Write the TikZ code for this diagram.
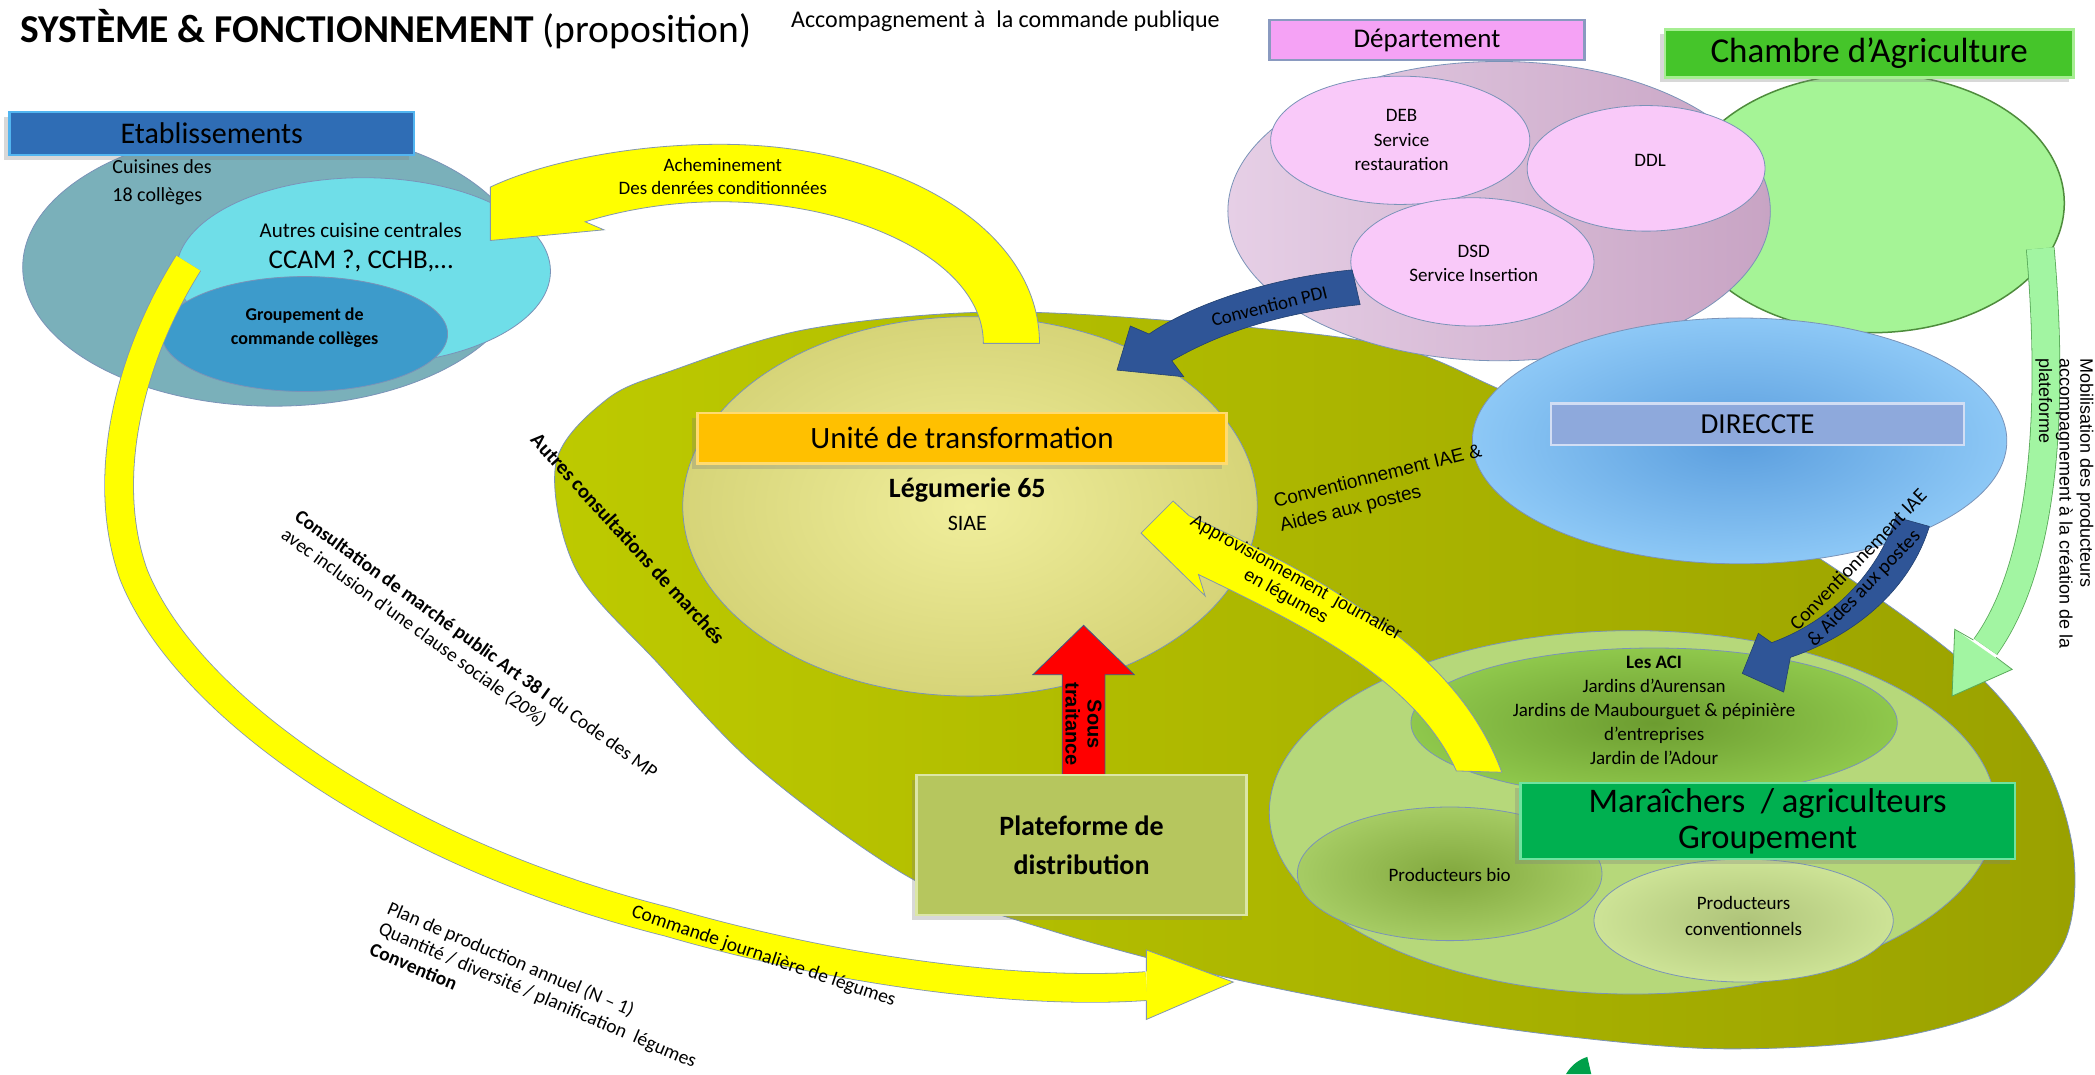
\documentclass[tikz,border=0pt]{standalone}
\usepackage{fontspec}
\setmainfont{Carlito}
\newfontfamily\arialfont{Liberation Sans}
\usetikzlibrary{calc, shadows}

\newcommand{\setfs}[2]{\fontsize{#1}{#2}\selectfont}

% --- Colours ---
\definecolor{etabTeal}{HTML}{7AB0BA}
\definecolor{etabCyan}{HTML}{6FDEE8}
\definecolor{etabBlue}{HTML}{3D9BCB}
\definecolor{etabBar}{HTML}{2F6DB5}
\definecolor{etabBarEdge}{HTML}{52B5F0}
\definecolor{shapeEdge}{HTML}{7A93B8}
\definecolor{depLight}{HTML}{E6CFE6}
\definecolor{depDark}{HTML}{C8A4C4}
\definecolor{depPink}{HTML}{F9C9F9}
\definecolor{depBar}{HTML}{F5A2F5}
\definecolor{depBarEdge}{HTML}{8A9AC0}
\definecolor{chambreFill}{HTML}{A5F496}
\definecolor{chambreEdge}{HTML}{4E8C3C}
\definecolor{chambreBar}{HTML}{45C52A}
\definecolor{chambreBarEdge}{HTML}{A6EE92}
\definecolor{direcIn}{HTML}{5B9EDE}
\definecolor{direcOut}{HTML}{8DC8F6}
\definecolor{direcBar}{HTML}{8EA9DC}
\definecolor{direcBarEdge}{HTML}{D2DEF4}
\definecolor{oliveL}{HTML}{BDCA00}
\definecolor{oliveR}{HTML}{9AA100}
\definecolor{uniteIn}{HTML}{F0EE9C}
\definecolor{uniteOut}{HTML}{D6D478}
\definecolor{uniteBar}{HTML}{FFC000}
\definecolor{uniteBarEdge}{HTML}{FFDB70}
\definecolor{platFill}{HTML}{B6C65E}
\definecolor{platEdge}{HTML}{DCE6A6}
\definecolor{prodLight}{HTML}{B6D87A}
\definecolor{aciIn}{HTML}{6C9C30}
\definecolor{aciOut}{HTML}{8FC84C}
\definecolor{bioIn}{HTML}{82A83E}
\definecolor{bioOut}{HTML}{A6CC64}
\definecolor{convIn}{HTML}{AFC47A}
\definecolor{convOut}{HTML}{CDE396}
\definecolor{maraBar}{HTML}{00B050}
\definecolor{maraBarEdge}{HTML}{6FE3A0}
\definecolor{arrowYellow}{HTML}{FFFF00}
\definecolor{yellowEdge}{HTML}{8397AE}
\definecolor{arrowBlue}{HTML}{2F5597}
\definecolor{blueEdge}{HTML}{22406F}
\definecolor{arrowGreen}{HTML}{A2F5A2}
\definecolor{greenEdge}{HTML}{58A858}
\definecolor{arrowRed}{HTML}{FF0000}
\definecolor{redEdge}{HTML}{3A5A8C}
\definecolor{tipGreen}{HTML}{00A04A}

\begin{document}
\begin{tikzpicture}[
    x=1.336pt, y=-1.336pt, % one unit = one pixel of the shrunk reference, y downwards
    lbl/.style={inner sep=0pt, align=center},
    bar/.style={draw=#1, line width=2.5pt, inner sep=0pt, align=center},
    softshadow/.style={drop shadow={shadow xshift=-5pt, shadow yshift=-5pt, opacity=0.3}},
    zone/.style={draw=shapeEdge, line width=0.8pt},
    yarrow/.style={fill=arrowYellow, draw=yellowEdge, line width=0.8pt},
    yband/.style={draw=yellowEdge, line width=0.8pt, double=arrowYellow, double distance=#1},
    barrow/.style={fill=arrowBlue, draw=blueEdge, line width=0.6pt},
  ]

  \useasboundingbox (0,0) rectangle (1568,804);
  \fill[white] (0,0) rectangle (1568,804);

  % --- Etablissements ---
  \draw[zone, fill=etabTeal] (205,200) ellipse [x radius=188, y radius=104];
  \draw[zone, fill=etabCyan] (272,203) ellipse [x radius=140, y radius=70];
  \draw[zone, fill=etabBlue] (228,250) ellipse [x radius=107, y radius=43];

  % --- Main olive zone ---
  \draw[zone, left color=oliveL, right color=oliveR]
    plot[smooth cycle, tension=0.55] coordinates {
      (601,247) (726,234) (850,238) (1032,257) (1124,292) (1250,350) (1380,430)
      (1480,505) (1530,570) (1552,640) (1545,705) (1500,752) (1410,778) (1290,785)
      (1175,776) (1063,760) (920,732) (785,696) (683,658) (569,576) (492,496)
      (431,426) (416,347) (454,299) (504,277)};

  % --- Commande journaliere (long yellow band) ---
  \draw[yband=28pt] (141,197) .. controls (95,270) and (75,360) .. (100,430)
    .. controls (140,530) and (300,640) .. (500,690)
    .. controls (620,725) and (760,745) .. (858,738);
  \fill[arrowYellow] (858,711) -- (923,735) -- (858,763) -- cycle;
  \draw[yellowEdge, line width=0.8pt] (858,727) -- (858,711) -- (923,735) -- (858,763) -- (858,749);

  % --- Unite de transformation zone ---
  \draw[zone, inner color=uniteIn, outer color=uniteOut] (726,379) ellipse [x radius=215, y radius=142];

  % --- Chambre d'Agriculture and Departement ---
  \draw[draw=chambreEdge, line width=1.5pt, fill=chambreFill] (1401,152) ellipse [x radius=144, y radius=97];
  \draw[zone, left color=depLight, right color=depDark] (1122,158) ellipse [x radius=203, y radius=112];
  \draw[zone, fill=depPink] (1048,105) ellipse [x radius=97, y radius=48];
  \draw[zone, fill=depPink] (1232,126) ellipse [x radius=89, y radius=47];
  \draw[zone, fill=depPink] (1102,196) ellipse [x radius=91, y radius=48];

  % --- DIRECCTE ---
  \draw[zone, inner color=direcIn, outer color=direcOut] (1302,330) ellipse [x radius=200, y radius=92];

  % --- Acheminement (yellow, over the top) ---
  \filldraw[yarrow] (778,257) .. controls (778,170) and (670,108) .. (539,108)
    .. controls (470,108) and (405,122) .. (367,140) -- (367,180) -- (452,172) -- (438,166)
    .. controls (470,156) and (505,151) .. (539,151)
    .. controls (640,151) and (736,195) .. (736,257) -- cycle;

  % --- Producteurs zone ---
  \draw[zone, fill=prodLight] (1222,608) ellipse [x radius=272, y radius=136];
  \draw[zone, inner color=aciIn, outer color=aciOut] (1238,541) ellipse [x radius=182, y radius=56];
  \draw[zone, inner color=bioIn, outer color=bioOut] (1085,654) ellipse [x radius=114, y radius=50];
  \draw[zone, inner color=convIn, outer color=convOut] (1305,689) ellipse [x radius=112, y radius=46];

  % --- Approvisionnement (yellow) ---
  \filldraw[yarrow] (1124,578) .. controls (1095,500) and (1020,445) .. (890,386)
    -- (878,375) -- (854,399) -- (902,446) -- (897,430)
    .. controls (980,470) and (1060,510) .. (1090,577) -- cycle;

  % --- Conventionnement DIRECCTE -> ACI (blue) ---
  \filldraw[barrow] (1444,394) .. controls (1430,440) and (1390,475) .. (1340,492)
    -- (1335,518) -- (1304,504) -- (1316,474) -- (1326,481)
    .. controls (1370,465) and (1405,430) .. (1419,387) -- cycle;

  % --- Mobilisation (light green) ---
  \draw[draw=greenEdge, line width=0.8pt, double=arrowGreen, double distance=27pt]
    (1527,186) .. controls (1537,300) and (1532,420) .. (1486,484);
  \fill[arrowGreen] (1463,471) -- (1461,521) -- (1506,501) -- cycle;
  \draw[greenEdge, line width=0.8pt] (1477,479) -- (1463,471) -- (1461,521) -- (1506,501) -- (1494,492);

  % --- Convention PDI (blue) ---
  \filldraw[barrow] (1012,202) .. controls (950,208) and (892,228) .. (860,250)
    -- (846,244) -- (836,277) -- (886,282) -- (877,270)
    .. controls (915,248) and (960,234) .. (1018,228) -- cycle;

  % --- Sous traitance (red) ---
  \filldraw[fill=arrowRed, draw=redEdge, line width=0.8pt]
    (795,580) -- (795,505) -- (773,505) -- (811,468) -- (849,505) -- (827,505) -- (827,580) -- cycle;

  % --- small green tip at the bottom ---
  \fill[tipGreen] (1172,804) .. controls (1176,797) and (1182,793) .. (1188,791) -- (1191,804) -- cycle;

  % --- Title bars ---
  \node[bar=etabBarEdge, fill=etabBar, softshadow, minimum width=303*1.336pt, minimum height=32*1.336pt,
        font=\setfs{30}{35}] (etab) at (158.5,100) {Etablissements};
  \node[bar=depBarEdge, fill=depBar, minimum width=236*1.336pt, minimum height=30*1.336pt,
        font=\setfs{27}{32}] (dep) at (1068,30) {Département};
  \node[bar=chambreBarEdge, fill=chambreBar, softshadow, minimum width=306*1.336pt, minimum height=36*1.336pt,
        font=\setfs{35}{40}] (chambre) at (1399,40) {Chambre d’Agriculture};
  \node[bar=direcBarEdge, fill=direcBar, minimum width=309*1.336pt, minimum height=31*1.336pt,
        font=\setfs{29}{33}] (direccte) at (1315.5,317.5) {DIRECCTE};
  \node[bar=uniteBarEdge, fill=uniteBar, softshadow, minimum width=396*1.336pt, minimum height=38*1.336pt,
        font=\setfs{31}{36}] (unite) at (720,328) {Unité de transformation};
  \node[bar=platEdge, fill=platFill, softshadow, minimum width=247*1.336pt, minimum height=105*1.336pt,
        font=\bfseries\setfs{28}{38.5}] (plateforme) at (809.5,632.5) {Plateforme de\\distribution};
  \node[bar=maraBarEdge, fill=maraBar, softshadow, minimum width=370*1.336pt, minimum height=57*1.336pt,
        font=\setfs{34.5}{35.7}] (maraichers) at (1323,614.5) {Maraîchers\ \ / agriculteurs\\Groupement};

  % --- Texts ---
  \node[lbl, anchor=west, font=\setfs{39.5}{45}] (titre) at (15,22)
    {\textbf{SYSTÈME \& FONCTIONNEMENT} (proposition)};
  \node[lbl, anchor=west, font=\setfs{24}{28}] (accomp) at (592,16) {Accompagnement à\ \ la commande publique};

  \node[lbl, anchor=west, font=\setfs{20}{24}] (cuisines) at (84,125) {Cuisines des};
  \node[lbl, anchor=west, font=\setfs{20}{24}] (colleges) at (84,147) {18 collèges};
  \node[lbl, font=\setfs{21}{25}] (autres) at (270,172) {Autres cuisine centrales};
  \node[lbl, font=\setfs{27}{32}] (ccam) at (270,195) {CCAM ?, CCHB,…};
  \node[lbl, font=\bfseries\setfs{18}{24}] (groupement) at (228,245) {Groupement de\\commande collèges};

  \node[lbl, font=\setfs{19}{23.4}] (achem) at (541,132) {Acheminement\\Des denrées conditionnées};

  \node[lbl, font=\setfs{19}{24.5}] (deb) at (1049,105) {DEB\\Service\\restauration};
  \node[lbl, font=\setfs{19}{24}] (ddl) at (1235,120) {DDL};
  \node[lbl, font=\setfs{19}{24}] (dsd) at (1103,197) {DSD\\Service Insertion};
  \node[lbl, rotate=14, font=\setfs{19}{23}] (pdi) at (950,229) {Convention PDI};

  \node[lbl, font=\bfseries\setfs{28}{33}] (legumerie) at (724,367) {Légumerie 65};
  \node[lbl, font=\setfs{22}{26}] (siae) at (724,392) {SIAE};
  \node[lbl, rotate=-90, font=\arialfont\bfseries\setfs{20}{22}] (sous) at (811,542) {Sous\\traitance};

  \node[lbl, anchor=west, align=left, rotate=14, font=\arialfont\setfs{19}{25}] (conventionIAE)
    at (956,385.5) {Conventionnement IAE \&\\Aides aux postes};
  \node[lbl, rotate=-29, font=\arialfont\setfs{18}{21.5}] (appro) at (966,440)
    {Approvisionnement\ \ journalier\\en légumes};
  \node[lbl, anchor=west, align=left, rotate=46, font=\setfs{20}{23.4}] (aidesPostes) at (1349,476)
    {Conventionnement IAE\\\& Aides aux postes};
  \node[lbl, anchor=north west, align=left, rotate=-90, font=\arialfont\setfs{18}{20.7}] (mobilisation)
    at (1567,268) {Mobilisation des producteurs\\accompagnement à la création de la\\plateforme};

  \node[lbl, font=\setfs{19}{24}] (aci) at (1238,532)
    {\textbf{Les ACI}\\Jardins d’Aurensan\\Jardins de Maubourguet \& pépinière\\d’entreprises\\Jardin de l’Adour};
  \node[lbl, font=\setfs{19}{24}] (bio) at (1085,655) {Producteurs bio};
  \node[lbl, font=\setfs{19}{26}] (conv) at (1305,685.5) {Producteurs\\conventionnels};

  \node[lbl, rotate=-47.7, font=\bfseries\setfs{20.5}{24}] (autresConsult) at (470,403)
    {Autres consultations de marchés};
  \node[lbl, anchor=west, align=left, rotate=-36, font=\setfs{19.5}{23}] (consultation) at (217,392)
    {\textbf{Consultation de marché public Art 38 I} du Code des MP\\avec inclusion d’une clause sociale (20\%)};
  \node[lbl, rotate=-18.9, font=\setfs{19.5}{23}] (commandeTxt) at (571.5,716) {Commande journalière de légumes};
  \node[lbl, anchor=west, align=left, rotate=-23, font=\setfs{19.5}{22.5}] (plan) at (284.3,694)
    {Plan de production annuel (N – 1)\\Quantité / diversité / planification\ \ légumes\\\textbf{Convention}};

\end{tikzpicture}
\end{document}
